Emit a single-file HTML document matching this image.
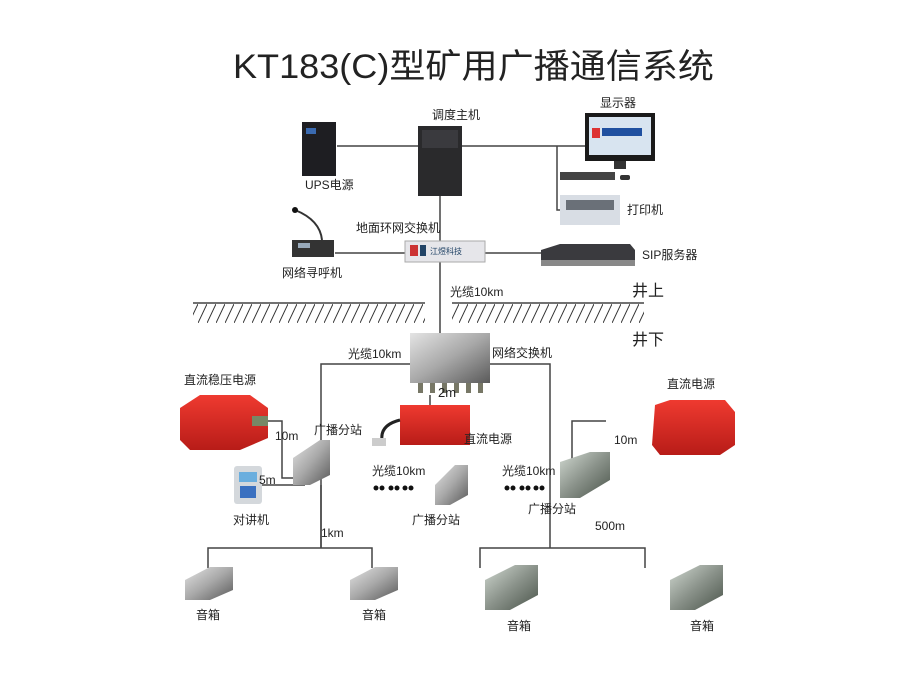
<!DOCTYPE html>
<html><head><meta charset="utf-8"><style>
html,body{margin:0;padding:0;background:#fff}
svg{display:block}
text{font-family:"Liberation Sans","Noto Sans CJK SC",sans-serif;fill:#222}
</style></head><body>
<svg width="900" height="689" viewBox="0 0 900 689" xmlns="http://www.w3.org/2000/svg">
<defs>
<pattern id="h" width="9" height="19" patternUnits="userSpaceOnUse">
<line x1="0" y1="19" x2="9" y2="0" stroke="#333" stroke-width="1"/>
</pattern>
<linearGradient id="steel" x1="0" y1="0" x2="1" y2="1">
<stop offset="0" stop-color="#e4e4e4"/><stop offset="0.5" stop-color="#a8a8a8"/><stop offset="1" stop-color="#5a5a5a"/></linearGradient>
<linearGradient id="steel2" x1="0" y1="0" x2="1" y2="1">
<stop offset="0" stop-color="#d0d8d0"/><stop offset="0.5" stop-color="#8a928a"/><stop offset="1" stop-color="#4a544a"/></linearGradient>
<linearGradient id="red" x1="0" y1="0" x2="0" y2="1">
<stop offset="0" stop-color="#ef3a30"/><stop offset="1" stop-color="#b81c18"/></linearGradient>
</defs>

<text x="233" y="78" font-size="34" textLength="481" lengthAdjust="spacingAndGlyphs">KT183(C)型矿用广播通信系统</text>

<g stroke="#444" stroke-width="1.5" fill="none">
<path d="M337 146H418M462 146H586M557 146V210H562M440 195V335M335 253H405M485 253H541"/>
<path d="M321 548V364H550V548M430 395V410"/>
<path d="M268 421H282V478H300M262 485H305M321 485V548"/>
<path d="M208 568V548H372V568M480 568V548H645V568M572 460V421H606"/>
</g>
<g stroke="#444" stroke-width="1.5">
<line x1="193" y1="303" x2="425" y2="303"/><line x1="452" y1="303" x2="644" y2="303"/>
</g>
<rect x="193" y="304" width="232" height="19" fill="url(#h)"/>
<rect x="452" y="304" width="192" height="19" fill="url(#h)"/>

<!-- UPS -->
<rect x="302" y="122" width="34" height="54" fill="#1e1e22"/>
<rect x="306" y="128" width="10" height="6" fill="#3a6ab0"/>
<!-- tower -->
<rect x="418" y="126" width="44" height="70" fill="#2a2a2c"/>
<rect x="422" y="130" width="36" height="18" fill="#3a3a3e"/>
<!-- monitor -->
<rect x="585" y="113" width="70" height="48" fill="#1a1a1a"/>
<rect x="589" y="117" width="62" height="38" fill="#d8e4f0"/>
<rect x="592" y="128" width="8" height="10" fill="#d33"/>
<rect x="602" y="128" width="40" height="8" fill="#2050a0"/>
<rect x="614" y="161" width="12" height="8" fill="#333"/>
<rect x="560" y="172" width="55" height="8" fill="#444"/>
<rect x="620" y="175" width="10" height="5" rx="2" fill="#333"/>
<!-- printer -->
<rect x="560" y="195" width="60" height="30" fill="#d8dde4"/>
<rect x="566" y="200" width="48" height="10" fill="#6a7078"/>
<!-- pager -->
<rect x="292" y="240" width="42" height="17" fill="#333"/>
<rect x="298" y="243" width="12" height="5" fill="#9ab"/>
<path d="M322 240Q320 220 295 210" stroke="#333" stroke-width="2" fill="none"/>
<circle cx="295" cy="210" r="3" fill="#111"/>
<!-- ground switch -->
<rect x="405" y="241" width="80" height="21" fill="#e6e6ea" stroke="#aaa"/>
<rect x="410" y="245" width="8" height="11" fill="#c33"/>
<rect x="420" y="245" width="6" height="11" fill="#246"/>
<text x="430" y="254" font-size="8" fill="#246" style="fill:#246">江煜科技</text>
<!-- SIP -->
<path d="M541 250L560 244H630L635 250V266H541Z" fill="#3a3a3e"/>
<rect x="541" y="260" width="94" height="6" fill="#888"/>
<!-- underground switch -->
<rect x="410" y="333" width="80" height="50" fill="url(#steel)"/>
<g fill="#776">
<rect x="418" y="383" width="5" height="10"/><rect x="430" y="383" width="5" height="10"/><rect x="442" y="383" width="5" height="10"/><rect x="454" y="383" width="5" height="10"/><rect x="466" y="383" width="5" height="10"/><rect x="478" y="383" width="5" height="10"/>
</g>
<!-- red boxes -->
<path d="M180 408L200 395H250L268 408V438L240 450H190L180 440Z" fill="url(#red)"/>
<rect x="252" y="416" width="16" height="10" fill="#786"/>
<rect x="400" y="405" width="70" height="40" fill="url(#red)"/>
<path d="M400 420Q380 425 382 440" stroke="#222" stroke-width="3" fill="none"/>
<rect x="372" y="438" width="14" height="8" fill="#ccc"/>
<path d="M655 405L670 400H725L735 412V445L720 455H660L652 445Z" fill="url(#red)"/>
<!-- stations -->
<path d="M293 458L320 440H330V475L310 485H293Z" fill="url(#steel)"/>
<path d="M435 485L455 465H468V495L450 505H435Z" fill="url(#steel)"/>
<path d="M560 462L590 452H610V480L580 498H560Z" fill="url(#steel2)"/>
<!-- intercom -->
<rect x="234" y="466" width="28" height="38" rx="3" fill="#d4d8dc"/>
<rect x="239" y="472" width="18" height="10" fill="#6aaede"/>
<rect x="240" y="486" width="16" height="12" fill="#3a70c0"/>
<!-- speakers -->
<path d="M185 580L210 567H233V590L210 600H185Z" fill="url(#steel)"/>
<path d="M350 580L375 567H398V590L375 600H350Z" fill="url(#steel)"/>
<path d="M485 580L515 565H538V595L510 610H485Z" fill="url(#steel2)"/>
<path d="M670 580L700 565H723V595L695 610H670Z" fill="url(#steel2)"/>
<!-- dots -->
<g fill="#111">
<circle cx="376" cy="488" r="2.5"/><circle cx="382" cy="488" r="2.5"/><circle cx="391" cy="488" r="2.5"/><circle cx="397" cy="488" r="2.5"/><circle cx="405" cy="488" r="2.5"/><circle cx="411" cy="488" r="2.5"/>
<circle cx="507" cy="488" r="2.5"/><circle cx="513" cy="488" r="2.5"/><circle cx="522" cy="488" r="2.5"/><circle cx="528" cy="488" r="2.5"/><circle cx="536" cy="488" r="2.5"/><circle cx="542" cy="488" r="2.5"/>
</g>

<g font-size="12">
<text x="432" y="119">调度主机</text>
<text x="600" y="107">显示器</text>
<text x="305" y="189">UPS电源</text>
<text x="627" y="214">打印机</text>
<text x="356" y="232">地面环网交换机</text>
<text x="282" y="277">网络寻呼机</text>
<text x="642" y="259">SIP服务器</text>
<text x="450" y="296">光缆10km</text>
<text x="348" y="358">光缆10km</text>
<text x="492" y="357">网络交换机</text>
<text x="184" y="384">直流稳压电源</text>
<text x="667" y="388">直流电源</text>
<text x="438" y="397" font-size="13">2m</text>
<text x="464" y="443">直流电源</text>
<text x="275" y="440">10m</text>
<text x="314" y="434">广播分站</text>
<text x="259" y="484">5m</text>
<text x="372" y="475">光缆10km</text>
<text x="502" y="475">光缆10km</text>
<text x="233" y="524">对讲机</text>
<text x="412" y="524">广播分站</text>
<text x="528" y="513">广播分站</text>
<text x="321" y="537">1km</text>
<text x="595" y="530">500m</text>
<text x="614" y="444">10m</text>
<text x="196" y="619">音箱</text>
<text x="362" y="619">音箱</text>
<text x="507" y="630">音箱</text>
<text x="690" y="630">音箱</text>
</g>
<g font-size="16"><text x="632" y="296">井上</text><text x="632" y="345">井下</text></g>
</svg>
</body></html>
